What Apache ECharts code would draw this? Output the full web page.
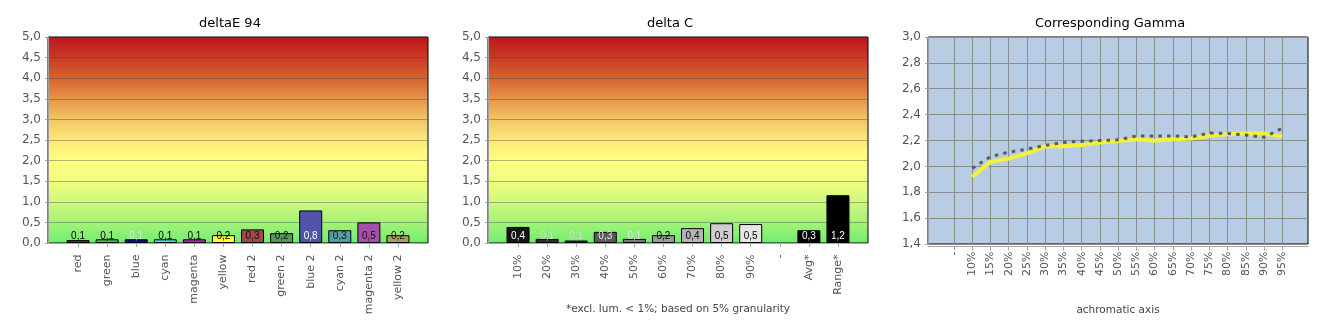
<!DOCTYPE html>
<html><head><meta charset="utf-8">
<script src="https://cdn.jsdelivr.net/npm/echarts@6/dist/echarts.min.js"></script>
<style>html,body{margin:0;padding:0;background:#fff}#c{width:1330px;height:330px}</style>
</head><body><div id="c"></div>
<script>
// ---- data ----
const deltaECategories = ['red','green','blue','cyan','magenta','yellow','red 2','green 2','blue 2','cyan 2','magenta 2','yellow 2'];
const deltaEValues = [0.07,0.09,0.09,0.09,0.09,0.19,0.33,0.24,0.79,0.31,0.50,0.19];
const deltaCCategories = ['10%','20%','30%','40%','50%','60%','70%','80%','90%','-','Avg*','Range*'];
const deltaCValues = [0.39,0.10,0.06,0.27,0.10,0.19,0.36,0.48,0.46,null,0.31,1.16];
const gammaCategories = ['-','10%','15%','20%','25%','30%','35%','40%','45%','50%','55%','60%','65%','70%','75%','80%','85%','90%','95%'];
const gammaMeasured = [null,1.92,2.035,2.06,2.10,2.155,2.155,2.165,2.185,2.197,2.21,2.198,2.21,2.215,2.237,2.248,2.255,2.255,2.23];
const gammaDotted = [null,1.985,2.075,2.11,2.133,2.162,2.185,2.195,2.2,2.205,2.235,2.235,2.235,2.228,2.258,2.255,2.242,2.225,2.295];
const deltaAxisMin = 0, deltaAxisMax = 5, deltaAxisStep = 0.5;
const gammaAxisMin = 1.4, gammaAxisMax = 3.0, gammaAxisStep = 0.2;
const titles = ['deltaE 94','delta C','Corresponding Gamma'];
const deltaCNote = '*excl. lum. < 1%; based on 5% granularity';
const gammaAxisName = 'achromatic axis';

// ---- styles ----
const deltaEColors = ['#9c1e1e','#2fd040','#0c0ca4','#40e0f0','#c020c8','#ffff30','#a34848','#4f9a58','#5252a8','#50a0a8','#a450a8','#a3a362'];
const deltaELabelColors = ['#000','#000','#e0e0e0','#000','#000','#000','#111','#111','#fff','#111','#111','#111'];
const deltaCColors = ['#141414','#283028','#303830','#5a5a5a','#7a7a7a','#9c9c9c','#b4b4b4','#cfcfcf','#e6e6e6','#000','#000','#000'];
const deltaCLabelColors = ['#fff','#d8d8d8','#d8d8d8','#e8e8e8','#e0e0e0','#000','#000','#000','#000','#fff','#fff','#fff'];

const FONT = 'DejaVu Sans';
const fmt = v => v.toFixed(1).replace('.', ',');

const chart = echarts.init(document.getElementById('c'), null, {renderer:'canvas'});

const warmGrad = new echarts.graphic.LinearGradient(0,0,0,1,[
  {offset:0, color:'#bf151a'},
  {offset:0.1, color:'#c83a25'},
  {offset:0.2, color:'#d6622f'},
  {offset:0.3, color:'#e6944a'},
  {offset:0.4, color:'#f2c566'},
  {offset:0.5, color:'#fbe97a'},
  {offset:0.6, color:'#ffff80'},
  {offset:0.7, color:'#effd80'},
  {offset:0.8, color:'#cff87e'},
  {offset:0.9, color:'#a4f278'},
  {offset:1, color:'#6fee70'}
]);

const grids = [], xAxes = [], yAxes = [], series = [];

function addBarPanel(outerLeft, innerLeft, cats, vals, colors, labelColors, note) {
  const g = grids.length;
  grids.push({left: outerLeft, top: 37, width: 380, height: 206, show: true, backgroundColor: warmGrad, borderColor: '#000', borderWidth: 1, containLabel: false});
  grids.push({left: innerLeft, top: 37, width: 349, height: 206, show: false, containLabel: false});
  xAxes.push({gridIndex: g, type: 'value', min: 0, max: 1, offset: 4.5,
    axisLine: {show: true, lineStyle: {color: '#a8a8a8'}}, axisTick: {show: false}, axisLabel: {show: false}, splitLine: {show: false},
    name: note || '', nameLocation: 'middle', nameGap: 56,
    nameTextStyle: {fontFamily: FONT, fontSize: 10.5, color: '#444'}});
  yAxes.push({gridIndex: g, type: 'value', min: deltaAxisMin, max: deltaAxisMax, interval: deltaAxisStep, offset: 4,
    axisLine: {show: true, lineStyle: {color: '#a0a0a0'}}, axisTick: {show: true, length: 3, lineStyle: {color: '#a0a0a0'}},
    axisLabel: {margin: 3, fontFamily: FONT, fontSize: 12, color: '#555', formatter: fmt},
    splitLine: {show: true, lineStyle: {color: 'rgba(70,70,70,0.4)', width: 1}}});
  xAxes.push({gridIndex: g+1, type: 'category', data: cats, boundaryGap: true, offset: 4.5,
    axisLine: {show: false}, axisTick: {show: true, alignWithLabel: true, length: 4, lineStyle: {color: '#a8a8a8'}},
    axisLabel: {rotate: 90, interval: 0, margin: 7, fontFamily: FONT, fontSize: 11, color: '#555'}});
  yAxes.push({gridIndex: g+1, type: 'value', min: deltaAxisMin, max: deltaAxisMax, show: false});
  series.push({type: 'bar', xAxisIndex: g+1, yAxisIndex: g+1, barWidth: 23,
    data: vals.map((v, i) => ({value: v, itemStyle: {color: colors[i]}, label: {color: labelColors[i]}})),
    itemStyle: {borderColor: '#000', borderWidth: 1},
    label: {show: true, position: 'insideBottom', distance: 2, fontFamily: 'Liberation Sans', fontSize: 10,
      formatter: p => (p.value == null ? '' : fmt(p.value))}});
}

addBarPanel(48, 63.5, deltaECategories, deltaEValues, deltaEColors, deltaELabelColors, '');
addBarPanel(488, 503.5, deltaCCategories, deltaCValues, deltaCColors, deltaCLabelColors, deltaCNote);

// gamma panel
(function(){
  const g = grids.length;
  grids.push({left: 928, top: 37, width: 380, height: 207, show: true, backgroundColor: '#b8cce4', borderColor: '#000', borderWidth: 1});
  grids.push({left: 954, top: 37, width: 328.3, height: 207, show: false});
  xAxes.push({gridIndex: g, type: 'value', min: 0, max: 1, offset: 2.5,
    axisLine: {show: true, lineStyle: {color: '#a8a8a8'}}, axisTick: {show: false}, axisLabel: {show: false}, splitLine: {show: false},
    name: gammaAxisName, nameLocation: 'middle', nameGap: 58,
    nameTextStyle: {fontFamily: FONT, fontSize: 10.5, color: '#444'}});
  yAxes.push({gridIndex: g, type: 'value', min: gammaAxisMin, max: gammaAxisMax, interval: gammaAxisStep, offset: 4,
    axisLine: {show: true, lineStyle: {color: '#a0a0a0'}}, axisTick: {show: true, length: 3, lineStyle: {color: '#a0a0a0'}},
    axisLabel: {margin: 3, fontFamily: FONT, fontSize: 12, color: '#555', formatter: fmt},
    splitLine: {show: true, lineStyle: {color: '#8c8c8c', width: 1}}});
  xAxes.push({gridIndex: g+1, type: 'category', data: gammaCategories, boundaryGap: false, offset: 2.5,
    axisLine: {show: false}, axisTick: {show: true, length: 4, lineStyle: {color: '#a8a8a8'}},
    axisLabel: {rotate: 90, interval: 0, margin: 5, fontFamily: FONT, fontSize: 11, color: '#555'},
    splitLine: {show: true, interval: 0, lineStyle: {color: '#8c8c8c', width: 1}}});
  yAxes.push({gridIndex: g+1, type: 'value', min: gammaAxisMin, max: gammaAxisMax, show: false});
  series.push({type: 'line', xAxisIndex: g+1, yAxisIndex: g+1, data: gammaMeasured, symbol: 'none',
    lineStyle: {color: '#f2f23a', width: 4}, z: 3});
  series.push({type: 'line', xAxisIndex: g+1, yAxisIndex: g+1, data: gammaDotted, symbol: 'none',
    lineStyle: {color: '#5c5c5c', width: 3, type: [3.5, 5.2]}, z: 4});
})();

chart.setOption({
  animation: false,
  backgroundColor: '#fff',
  title: [
    {text: titles[0], left: 225, top: 12, textAlign: 'center', textStyle: {fontFamily: FONT, fontSize: 13, fontWeight: 'normal', color: '#000'}},
    {text: titles[1], left: 665, top: 12, textAlign: 'center', textStyle: {fontFamily: FONT, fontSize: 13, fontWeight: 'normal', color: '#000'}},
    {text: titles[2], left: 1105, top: 12, textAlign: 'center', textStyle: {fontFamily: FONT, fontSize: 13, fontWeight: 'normal', color: '#000'}}
  ],
  grid: grids, xAxis: xAxes, yAxis: yAxes, series: series
});
</script></body></html>
